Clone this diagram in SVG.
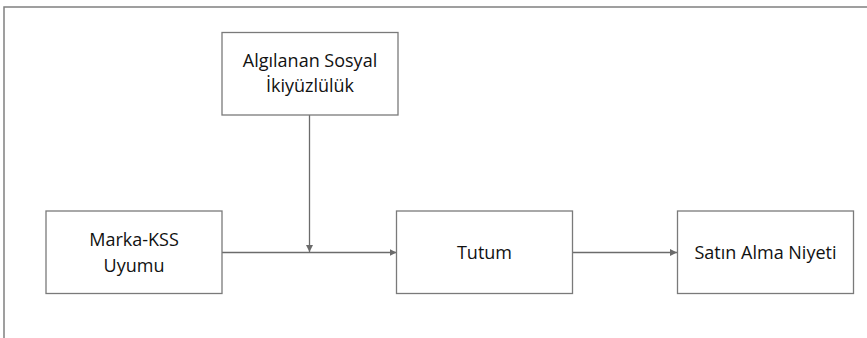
<svg xmlns="http://www.w3.org/2000/svg" width="867" height="338" viewBox="0 0 867 338">
<style>
.box{fill:#fff;stroke:#7a7a7a;stroke-width:1.3}
.frame{fill:none;stroke:#808080;stroke-width:1.5}
.edge{fill:none;stroke:#6b6b6b;stroke-width:1.3}
text{font-family:"Open Sans","Liberation Sans",sans-serif;font-size:18px;fill:#111;text-anchor:middle}
</style>
<defs>
<marker id="ah" viewBox="0 0 10 10" refX="10" refY="5" markerWidth="7" markerHeight="7" markerUnits="userSpaceOnUse" orient="auto">
<path d="M0,0 L10,5 L0,10 z" fill="#6b6b6b"/>
</marker>
</defs>
<rect width="867" height="338" fill="#fff"/>
<path class="frame" d="M4,338 V7 H867"/>
<g id="connectors">
<line class="edge" x1="309.5" y1="115" x2="309.5" y2="252" marker-end="url(#ah)"/>
<line class="edge" x1="222" y1="252.5" x2="396.5" y2="252.5" marker-end="url(#ah)"/>
<line class="edge" x1="573" y1="252.5" x2="677" y2="252.5" marker-end="url(#ah)"/>
</g>
<g id="node-algilanan">
<rect class="box" x="222" y="32.5" width="176" height="82.5"/>
<text x="310" y="66.5">Algılanan Sosyal</text>
<text x="310" y="92">İkiyüzlülük</text>
</g>
<g id="node-marka">
<rect class="box" x="46" y="211" width="176" height="82.5"/>
<text x="134" y="246">Marka-KSS</text>
<text x="134" y="271.5">Uyumu</text>
</g>
<g id="node-tutum">
<rect class="box" x="396.5" y="211" width="176" height="82.5"/>
<text x="484.5" y="259">Tutum</text>
</g>
<g id="node-satin">
<rect class="box" x="677.5" y="211" width="176" height="82.5"/>
<text x="765.5" y="259">Satın Alma Niyeti</text>
</g>
</svg>
